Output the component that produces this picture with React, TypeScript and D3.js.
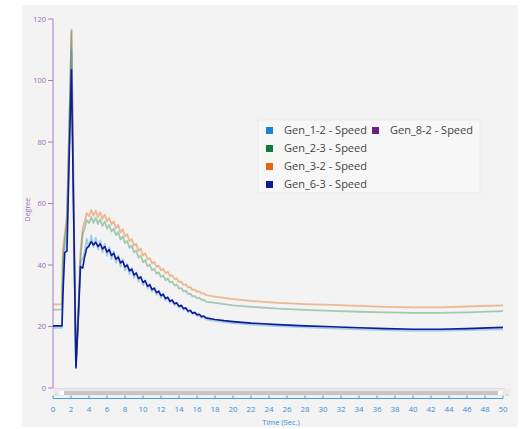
import React from "react";
import * as d3 from "d3";

const TIME = [
  0, 1.0, 1.1, 1.3, 1.55, 1.8, 2.05, 2.3, 2.55, 2.8, 3.05, 3.3,
  3.5, 3.75, 4.0, 4.25, 4.5, 4.75, 5.0, 5.25, 5.5, 5.75,
  6.0, 6.25, 6.5, 6.75, 7.0, 7.25, 7.5, 7.75, 8.0, 8.25,
  8.5, 8.75, 9.0, 9.25, 9.5, 9.75, 10.0, 10.25, 10.5, 10.75,
  11.0, 11.25, 11.5, 11.75, 12.0, 12.25, 12.5, 12.75, 13.0, 13.25,
  13.5, 13.75, 14.0, 14.25, 14.5, 14.75, 15.0, 15.25, 15.5, 15.75,
  16.0, 16.25, 16.5, 16.75, 17.0,
  18, 19, 20, 22, 25, 28, 31, 34, 37, 40, 43, 46, 50,
];

const GEN_1_2 = [
  19.6, 19.6, 35, 45, 50, 80, 110, 57, 7, 23, 41, 42,
  44.0, 48.5, 45.8, 49.6, 45.8, 48.9, 45.0, 48.0, 44.1, 46.9,
  43.0, 45.7, 41.9, 44.4, 40.7, 43.1, 39.5, 41.8, 38.2, 40.4,
  37.0, 39.0, 35.7, 37.6, 34.6, 36.3, 33.4, 35.0, 32.3, 33.7,
  31.3, 32.6, 30.3, 31.5, 29.4, 30.5, 28.5, 29.5, 27.7, 28.5,
  26.9, 27.6, 26.1, 26.7, 25.4, 25.9, 24.6, 25.1, 24.0, 24.4,
  23.4, 23.7, 22.8, 23.1, 22.3,
  21.8, 21.4, 21.1, 20.6, 20.1, 19.7, 19.4, 19.1, 18.8, 18.6, 18.6, 18.8, 19.1,
];

const GEN_2_3 = [
  25.5, 25.5, 42, 48, 54, 84, 116, 58, 7.5, 23, 42, 50,
  51.7, 54.6, 53.6, 55.6, 53.7, 55.4, 53.3, 54.9, 52.7, 54.1,
  51.9, 53.0, 50.9, 51.9, 49.7, 50.7, 48.3, 49.3, 47.1, 47.8,
  45.6, 46.3, 44.1, 44.7, 42.4, 43.1, 40.9, 41.6, 39.6, 40.1,
  38.3, 38.8, 37.2, 37.6, 36.1, 36.6, 35.1, 35.6, 34.3, 34.6,
  33.3, 33.6, 32.3, 32.5, 31.4, 31.6, 30.6, 30.7, 29.8, 29.9,
  29.2, 29.3, 28.7, 28.7, 28.1,
  27.7, 27.3, 26.9, 26.4, 25.8, 25.4, 25.1, 24.8, 24.6, 24.4, 24.4, 24.6, 25.0,
];

const GEN_3_2 = [
  27.2, 27.2, 45, 50, 56, 85, 116.5, 60, 7.5, 24, 44, 52,
  54.0, 56.9, 55.9, 57.9, 56.0, 57.7, 55.6, 57.2, 55.0, 56.4,
  54.2, 55.3, 53.2, 54.2, 52.0, 53.0, 50.6, 51.6, 49.3, 50.0,
  47.8, 48.5, 46.3, 46.9, 44.6, 45.3, 43.1, 43.8, 41.8, 42.3,
  40.5, 41.0, 39.4, 39.8, 38.3, 38.8, 37.3, 37.8, 36.4, 36.7,
  35.4, 35.7, 34.4, 34.6, 33.5, 33.7, 32.7, 32.8, 31.9, 32.0,
  31.3, 31.4, 30.8, 30.8, 30.2,
  29.7, 29.3, 28.9, 28.3, 27.7, 27.3, 27.0, 26.7, 26.4, 26.2, 26.2, 26.5, 26.9,
];

const GEN_6_3 = [
  20.2, 20.2, 30, 44, 44.5, 75, 103.5, 55, 6.5, 22, 39.5, 39,
  42.5, 45.5, 46.2, 47.6, 46.5, 47.4, 46.0, 46.9, 45.2, 46.0,
  44.2, 45.0, 43.1, 43.8, 41.9, 42.6, 40.7, 41.3, 39.4, 40.0,
  38.1, 38.7, 36.8, 37.4, 35.6, 36.1, 34.3, 34.9, 33.1, 33.6,
  32.0, 32.5, 31.0, 31.5, 30.0, 30.5, 29.1, 29.5, 28.2, 28.6,
  27.4, 27.7, 26.6, 26.9, 25.8, 26.1, 25.0, 25.3, 24.3, 24.6,
  23.8, 24.0, 23.2, 23.4, 22.8,
  22.3, 21.9, 21.6, 21.1, 20.6, 20.2, 19.9, 19.6, 19.3, 19.1, 19.1, 19.3, 19.7,
];

// Gen_8-2 lies underneath Gen_6-3 in the picture
const GEN_8_2 = GEN_6_3;

const SERIES_NAMES = [
  "Gen_1-2 - Speed",
  "Gen_2-3 - Speed",
  "Gen_3-2 - Speed",
  "Gen_6-3 - Speed",
  "Gen_8-2 - Speed",
];
const SERIES_VALUES = [GEN_1_2, GEN_2_3, GEN_3_2, GEN_6_3, GEN_8_2];
const SERIES_COLORS = ["#1a82d6", "#0e7a3c", "#e8640f", "#0c1c98", "#6b2180"];
const SERIES_OPACITY = [0.35, 0.35, 0.42, 1, 0];

const X_TICKS = d3.range(0, 51, 2);
const Y_TICKS = [0, 20, 40, 60, 80, 100, 120];

const W = 521;
const H = 429;
const FONT = "'Open Sans', 'Noto Sans', sans-serif";

export default function App() {
  const x = d3.scaleLinear().domain([0, 50]).range([53, 503]);
  const y = d3.scaleLinear().domain([0, 120]).range([388, 19]);

  const drawOrder = [2, 1, 0, 4, 3];
  const legendCol1 = [0, 1, 2, 3];

  return (
    <svg
      width={W}
      height={H}
      style={{ position: "absolute", left: 0, top: 0 }}
      fontFamily={FONT}
    >
      <rect x={0} y={0} width={W} height={H} fill="#ffffff" />
      <rect x={22} y={5} width={496} height={422} fill="#f3f3f3" />

      {/* Y axis */}
      <line x1={53} x2={53} y1={y(120)} y2={y(0)} stroke="#a57cc6" strokeWidth={1} />
      {Y_TICKS.map((t) => (
        <g key={t}>
          <line x1={48} x2={53} y1={y(t)} y2={y(t)} stroke="#a57cc6" />
          <text
            x={46}
            y={y(t)}
            dy="0.35em"
            textAnchor="end"
            fontSize={7.5}
            fill="#9c6cb8"
          >
            {t}
          </text>
        </g>
      ))}
      <text
        transform={`translate(30, ${y(58)}) rotate(-90)`}
        textAnchor="middle"
        fontSize={7}
        fill="#9c6cb8"
      >
        Degree
      </text>

      {/* series */}
      {drawOrder.map((i) => {
        const pts = TIME.map((t, k) => [t, SERIES_VALUES[i][k]] as [number, number]);
        const path = d3
          .line<[number, number]>()
          .x((d) => x(d[0]))
          .y((d) => y(d[1]))(pts);
        return (
          <path
            key={i}
            d={path || ""}
            fill="none"
            stroke={SERIES_COLORS[i]}
            strokeOpacity={SERIES_OPACITY[i]}
            strokeWidth={i === 3 ? 1.6 : 1.8}
            strokeLinejoin="round"
          />
        );
      })}

      {/* plot bottom / scrollbar */}
      <line x1={53} x2={505} y1={388.5} y2={388.5} stroke="#e2d6e8" />
      <rect x={53} y={389} width={458} height={7} fill="#ebebeb" />
      <rect x={60} y={391} width={441} height={4} fill="#c6c6c6" />
      <rect x={60} y={391} width={4} height={4} fill="#ffffff" />
      <rect x={498} y={391} width={4} height={4} fill="#ffffff" />
      <text x={56} y={395.5} fontSize={6} fill="#999" textAnchor="middle">‹</text>
      <text x={507} y={395.5} fontSize={6} fill="#999" textAnchor="middle">›</text>

      {/* X axis */}
      <line x1={53} x2={503} y1={398.5} y2={398.5} stroke="#4a9ad8" strokeWidth={1} />
      {X_TICKS.map((t) => (
        <g key={t}>
          <line x1={x(t)} x2={x(t)} y1={395.5} y2={398.5} stroke="#4a9ad8" />
          <text
            x={x(t)}
            y={412}
            textAnchor="middle"
            fontSize={8}
            fill="#3c8fd2"
          >
            {t}
          </text>
        </g>
      ))}
      <text x={281} y={425} textAnchor="middle" fontSize={7.5} fill="#3c8fd2">
        Time (Sec.)
      </text>

      {/* legend */}
      <rect x={258} y={120} width={222} height={73} fill="#f7f7f7" stroke="#ebebeb" />
      {legendCol1.map((i, r) => (
        <g key={i}>
          <rect x={266} y={127 + r * 18} width={7} height={7} fill={SERIES_COLORS[i]} />
          <text x={284} y={134 + r * 18} fontSize={11} fill="#444">
            {SERIES_NAMES[i]}
          </text>
        </g>
      ))}
      <rect x={372} y={127} width={7} height={7} fill={SERIES_COLORS[4]} />
      <text x={390} y={134} fontSize={11} fill="#444">
        {SERIES_NAMES[4]}
      </text>
    </svg>
  );
}
